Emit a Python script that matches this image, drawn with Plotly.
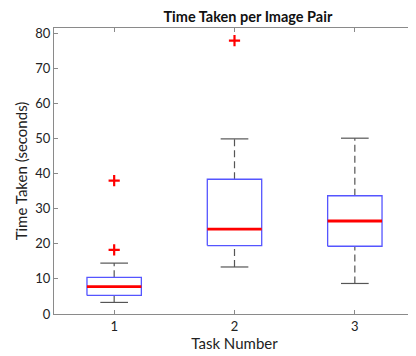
import plotly.graph_objects as go

tasks = [1, 2, 3]
tick_labels = ["1", "2", "3"]
lower_whisker = [3.3, 13.4, 8.7]
q1 = [5.3, 19.5, 19.3]
median = [7.8, 24.2, 26.5]
q3 = [10.45, 38.4, 33.7]
upper_whisker = [14.5, 49.9, 50.1]
outlier_task = [1, 1, 2]
outlier_value = [38.0, 18.3, 77.9]

BOX_HALF = 0.226
CAP_HALF = 0.115

fig = go.Figure()

# whiskers (dashed)
wx, wy = [], []
for t, lw, a, b, uw in zip(tasks, lower_whisker, q1, q3, upper_whisker):
    wx += [t, t, None, t, t, None]
    wy += [lw, a, None, b, uw, None]
fig.add_trace(go.Scatter(x=wx, y=wy, mode="lines",
                         line=dict(color="#555555", width=1.2, dash="7px,4px"),
                         hoverinfo="skip", showlegend=False))
# caps
cx, cy = [], []
for t, lw, uw in zip(tasks, lower_whisker, upper_whisker):
    cx += [t - CAP_HALF, t + CAP_HALF, None, t - CAP_HALF, t + CAP_HALF, None]
    cy += [lw, lw, None, uw, uw, None]
fig.add_trace(go.Scatter(x=cx, y=cy, mode="lines",
                         line=dict(color="#555555", width=1.2),
                         hoverinfo="skip", showlegend=False))
# boxes
bx, by = [], []
for t, a, b in zip(tasks, q1, q3):
    bx += [t - BOX_HALF, t + BOX_HALF, t + BOX_HALF, t - BOX_HALF, t - BOX_HALF, None]
    by += [a, a, b, b, a, None]
fig.add_trace(go.Scatter(x=bx, y=by, mode="lines",
                         line=dict(color="#5555ff", width=1.3),
                         hoverinfo="skip", showlegend=False))
# medians
mx, my = [], []
for t, m in zip(tasks, median):
    mx += [t - BOX_HALF, t + BOX_HALF, None]
    my += [m, m, None]
fig.add_trace(go.Scatter(x=mx, y=my, mode="lines",
                         line=dict(color="#ff0000", width=2.8),
                         hoverinfo="skip", showlegend=False))
# outliers
fig.add_trace(go.Scatter(x=outlier_task, y=outlier_value, mode="markers",
                         marker=dict(symbol="cross-thin", size=8,
                                     line=dict(color="#ff0000", width=2.2)),
                         hoverinfo="skip", showlegend=False))

font_family = "Lato, 'Open Sans', sans-serif"
# the page body has an 8px default margin, so the figure is drawn 8px smaller
fig.update_layout(
    width=408, height=348,
    margin=dict(l=46, r=1, t=20, b=42),
    paper_bgcolor="white", plot_bgcolor="white",
    font=dict(family=font_family, color="#222222", size=13),
    title=dict(text="<b>Time Taken per Image Pair</b>", x=0.588, xanchor="center",
               xref="container", yref="container",
               y=0.99, yanchor="top", font=dict(size=14.5, color="#111111")),
    xaxis=dict(range=[0.5, 3.5], tickvals=tasks, ticktext=tick_labels,
               showgrid=False, zeroline=False, showline=True, linecolor="#8a8a8a",
               linewidth=1, mirror="ticks", ticks="inside", ticklen=4,
               tickcolor="#8a8a8a", automargin=False,
               title=dict(text="Task Number", font=dict(size=15), standoff=2)),
    yaxis=dict(range=[0, 81.5], tickvals=[0, 10, 20, 30, 40, 50, 60, 70, 80],
               showgrid=False, zeroline=False, showline=True, linecolor="#8a8a8a",
               linewidth=1, mirror="ticks", ticks="inside", ticklen=4,
               tickcolor="#8a8a8a", automargin=False,
               title=dict(text="Time Taken (seconds)", font=dict(size=15), standoff=4)),
)

fig.write_html("out.html")
